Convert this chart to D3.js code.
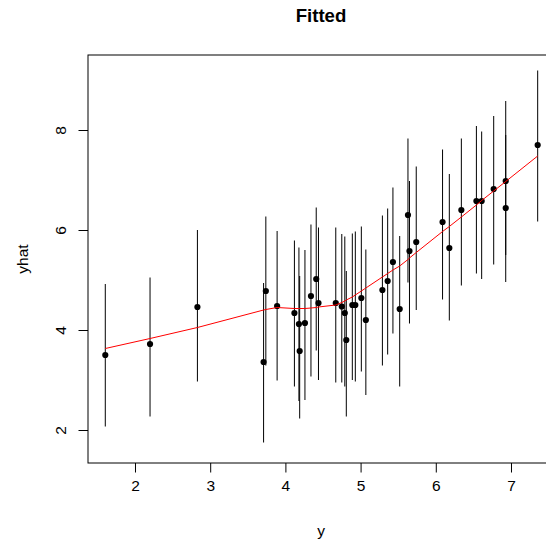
<!DOCTYPE html>
<html><head><meta charset="utf-8">
<script src="https://cdn.jsdelivr.net/npm/d3@7"></script>
<style>body{margin:0;background:#fff}svg{display:block}text{font-family:"Liberation Sans",Arial,sans-serif}</style>
</head><body>
<script>
// observed y (sorted), fitted yhat points, interval bounds, smooth fit
const yObs   = [1.605,2.20,2.83,3.71,3.74,3.89,4.12,4.18,4.19,4.26,4.34,4.41,4.44,4.67,4.75,4.79,4.81,4.89,4.93,5.01,5.07,5.29,5.36,5.43,5.52,5.63,5.65,5.74,6.09,6.18,6.34,6.54,6.61,6.77,6.93,6.93,7.355];
const yhat   = [3.50,3.72,4.46,3.36,4.78,4.48,4.34,4.12,3.58,4.14,4.68,5.02,4.54,4.54,4.47,4.34,3.80,4.50,4.50,4.64,4.20,4.80,4.98,5.36,4.42,6.30,5.58,5.76,6.16,5.64,6.40,6.58,6.58,6.82,6.98,6.44,7.70];
const lower  = [2.07,2.27,2.97,1.75,3.29,2.99,2.87,2.58,2.23,2.60,3.07,3.59,3.00,2.95,2.95,2.87,2.27,3.00,2.97,3.17,2.70,3.29,3.51,3.93,2.87,4.95,4.13,4.40,4.61,4.19,4.89,5.13,5.02,5.31,5.50,4.96,6.17];
const upper  = [4.92,5.05,6.00,4.94,6.27,5.98,5.79,5.65,5.08,5.60,6.11,6.45,6.05,6.05,5.92,5.87,5.18,5.93,5.97,6.07,5.61,6.29,6.43,6.85,5.88,7.83,6.98,7.27,7.61,7.12,7.83,8.08,7.97,8.28,8.58,7.90,9.19];
const fitted = [3.63,3.83,4.05,4.40,4.41,4.45,4.43,4.43,4.43,4.43,4.44,4.45,4.46,4.50,4.55,4.58,4.60,4.66,4.70,4.78,4.84,5.06,5.13,5.20,5.28,5.41,5.44,5.55,5.97,6.07,6.26,6.50,6.59,6.78,6.97,6.97,7.48];
const xTicks = [2,3,4,5,6,7];
const yTicks = [2,4,6,8];

const W = 546, H = 545;
const L = 88, R = 554, T = 55, B = 463;
const svg = d3.select("body").append("svg").attr("width", W).attr("height", H);

const x = d3.scaleLinear().domain([1.375, 7.572]).range([L, R]);
const y = d3.scaleLinear().domain([1.34, 9.5]).range([B, T]);

const rows = yObs.map((v, i) => ({x: v, yh: yhat[i], lo: lower[i], hi: upper[i], f: fitted[i]}));

// error bars
svg.append("g").selectAll("line").data(rows).join("line")
  .attr("x1", d => x(d.x)).attr("x2", d => x(d.x))
  .attr("y1", d => y(d.lo)).attr("y2", d => y(d.hi))
  .attr("stroke", "#000").attr("stroke-width", 1);

// points
svg.append("g").selectAll("circle").data(rows).join("circle")
  .attr("cx", d => x(d.x)).attr("cy", d => y(d.yh)).attr("r", 3.1).attr("fill", "#000");

// fitted line
svg.append("path").datum(rows)
  .attr("d", d3.line().x(d => x(d.x)).y(d => y(d.f)))
  .attr("fill", "none").attr("stroke", "#ff0000").attr("stroke-width", 1);

// box
svg.append("rect").attr("x", L).attr("y", T).attr("width", R - L).attr("height", B - T)
  .attr("fill", "none").attr("stroke", "#000").attr("stroke-width", 1);

// axes
const xAxis = d3.axisBottom(x).tickValues(xTicks).tickSize(9.5).tickPadding(7).tickFormat(d3.format("d"));
const gx = svg.append("g").attr("transform", `translate(0,${B})`).call(xAxis);
gx.select(".domain").remove();
gx.selectAll("text").attr("font-size", 15.5).attr("fill", "#000").style("font-family", '"Liberation Sans",Arial,sans-serif');

const yAxis = d3.axisLeft(y).tickValues(yTicks).tickSize(9.5).tickFormat(d3.format("d"));
const gy = svg.append("g").attr("transform", `translate(${L},0)`).call(yAxis);
gy.select(".domain").remove();
gy.selectAll("text")
  .attr("x", null).attr("dy", null).attr("y", null)
  .attr("text-anchor", "middle")
  .attr("transform", "translate(-22.5,0) rotate(-90)")
  .attr("font-size", 15.5).attr("fill", "#000").style("font-family", '"Liberation Sans",Arial,sans-serif');

// titles
svg.append("text").attr("x", (L + R) / 2).attr("y", 21.7).attr("text-anchor", "middle")
  .attr("font-size", 18.6).attr("font-weight", "bold").text("Fitted");
svg.append("text").attr("x", (L + R) / 2).attr("y", 535.5).attr("text-anchor", "middle")
  .attr("font-size", 15.5).text("y");
svg.append("text").attr("transform", `translate(28,${(T + B) / 2}) rotate(-90)`).attr("text-anchor", "middle")
  .attr("font-size", 15.5).text("yhat");
</script>
</body></html>
